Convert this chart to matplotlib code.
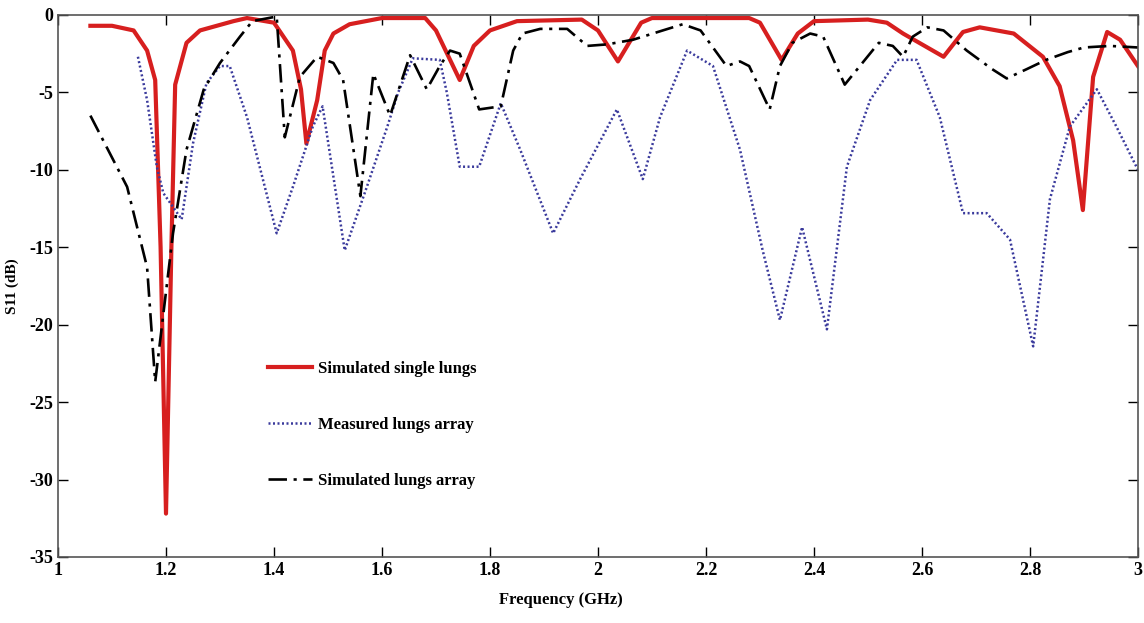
import numpy as np
import matplotlib
matplotlib.use("Agg")
import matplotlib.pyplot as plt

# values
f_single = [1.06, 1.10, 1.14, 1.165, 1.18, 1.19, 1.20, 1.21, 1.217, 1.238, 1.263, 1.325, 1.35,
            1.40, 1.435, 1.45, 1.46, 1.48, 1.494, 1.51, 1.54, 1.60, 1.68, 1.70, 1.744, 1.77,
            1.80, 1.85, 1.97, 2.00, 2.037, 2.08, 2.10, 2.28, 2.30, 2.34, 2.37, 2.40, 2.50,
            2.535, 2.565, 2.64, 2.676, 2.707, 2.77, 2.824, 2.855, 2.88, 2.898, 2.917, 2.943,
            2.967, 3.0]
s_single = [-0.7, -0.7, -1.0, -2.3, -4.2, -15.0, -32.2, -15.0, -4.5, -1.8, -1.0, -0.4, -0.2,
            -0.5, -2.3, -4.8, -8.3, -5.5, -2.3, -1.2, -0.6, -0.2, -0.2, -1.0, -4.2, -2.0,
            -1.0, -0.4, -0.3, -1.0, -3.0, -0.5, -0.2, -0.2, -0.5, -2.9, -1.2, -0.4, -0.3,
            -0.5, -1.2, -2.7, -1.1, -0.8, -1.2, -2.7, -4.6, -8.1, -12.6, -4.0, -1.1,
            -1.6, -3.3]

f_meas = [1.148, 1.165, 1.183, 1.195, 1.213, 1.229, 1.25, 1.275, 1.30, 1.318, 1.35, 1.405, 1.435,
          1.472, 1.49, 1.531, 1.572, 1.61, 1.63, 1.657, 1.707, 1.72, 1.744, 1.78, 1.82, 1.856,
          1.917, 1.967, 2.035, 2.083, 2.115, 2.165, 2.213, 2.263, 2.305, 2.337, 2.378, 2.424,
          2.461, 2.504, 2.554, 2.59, 2.633, 2.676, 2.72, 2.763, 2.806, 2.837, 2.874, 2.924,
          2.96, 3.0]
s_meas = [-2.7, -5.5, -9.8, -11.5, -12.4, -13.2, -8.3, -4.4, -3.3, -3.3, -6.6, -14.1, -11.1,
          -7.2, -5.9, -15.2, -11.1, -7.2, -5.0, -2.8, -2.9, -5.0, -9.8, -9.8, -5.7, -8.7,
          -14.1, -10.6, -6.1, -10.6, -6.6, -2.3, -3.3, -8.7, -15.2, -19.7, -13.7, -20.3,
          -9.8, -5.5, -2.9, -2.9, -6.6, -12.8, -12.8, -14.5, -21.4, -11.9, -7.2, -4.8,
          -7.2, -10.0]

f_array = [1.06, 1.128, 1.165, 1.18, 1.213, 1.238, 1.27, 1.30, 1.337, 1.36, 1.405, 1.42, 1.448,
           1.48, 1.51, 1.528, 1.56, 1.584, 1.615, 1.652, 1.683, 1.707, 1.726, 1.744, 1.78,
           1.82, 1.843, 1.86, 1.893, 1.943, 1.98, 2.017, 2.065, 2.12, 2.157, 2.19, 2.238,
           2.263, 2.28, 2.318, 2.337, 2.36, 2.393, 2.417, 2.457, 2.485, 2.52, 2.546, 2.565,
           2.583, 2.61, 2.64, 2.683, 2.73, 2.757, 2.794, 2.83, 2.87, 2.90, 2.948, 3.0]
s_array = [-6.5, -11.1, -16.3, -23.7, -14.1, -8.7, -4.8, -3.1, -1.4, -0.4, -0.1, -7.9, -4.0,
           -2.7, -3.1, -4.2, -11.7, -3.8, -6.5, -2.6, -4.8, -3.3, -2.3, -2.5, -6.1,
           -5.9, -2.3, -1.2, -0.9, -0.9, -2.0, -1.9, -1.6, -1.0, -0.6, -1.0, -3.3,
           -3.0, -3.3, -6.1, -3.3, -1.8, -1.2, -1.4, -4.5, -3.3, -1.8, -2.0, -2.7,
           -1.4, -0.8, -1.0, -2.3, -3.5, -4.1, -3.5, -2.9, -2.4, -2.1, -2.0, -2.1]

plt.rcParams['font.family'] = ['Liberation Serif', 'DejaVu Serif']
plt.rcParams['font.weight'] = 'bold'
plt.rcParams['axes.unicode_minus'] = False

fig = plt.figure(figsize=(11.44, 6.23), dpi=100)
ax = fig.add_axes([0.0507, 0.106, 0.944, 0.870])

ax.plot(f_single, s_single, color='#d71f1f', lw=3.0, label='Simulated single lungs')
ax.plot(f_meas, s_meas, color='#3a3a9c', lw=1.8, linestyle=(0, (0.8, 1.0)),
        label='Measured lungs array')
ax.plot(f_array, s_array, color='black', lw=1.9, linestyle=(0, (7, 2.5, 1.2, 2.5)),
        label='Simulated lungs array')

ax.set_xlim(1, 3)
ax.set_ylim(-35, 0)
ax.set_xticks(np.arange(1, 3.01, 0.2))
ax.set_xticklabels(['1', '1.2', '1.4', '1.6', '1.8', '2', '2.2', '2.4', '2.6', '2.8', '3'])
ax.set_yticks(np.arange(-35, 0.1, 5))
ax.tick_params(direction='in', length=7, top=True, right=True, labelsize=13, width=1)
for s in ax.spines.values():
    s.set_color('#555555')
    s.set_linewidth(1.2)

ax.set_xlabel('Frequency (GHz)', fontsize=12, fontweight='bold')
ax.xaxis.set_label_coords(0.466, -0.065)
ax.set_ylabel('S11 (dB)', fontsize=11, fontweight='bold')
ax.yaxis.set_label_coords(-0.036, 0.5)

leg = ax.legend(loc='upper left', bbox_to_anchor=(0.181, 0.39), frameon=False,
                fontsize=12, handlelength=2.6, handletextpad=0.4, labelspacing=2.4)

fig.savefig('out.png', dpi=100)
